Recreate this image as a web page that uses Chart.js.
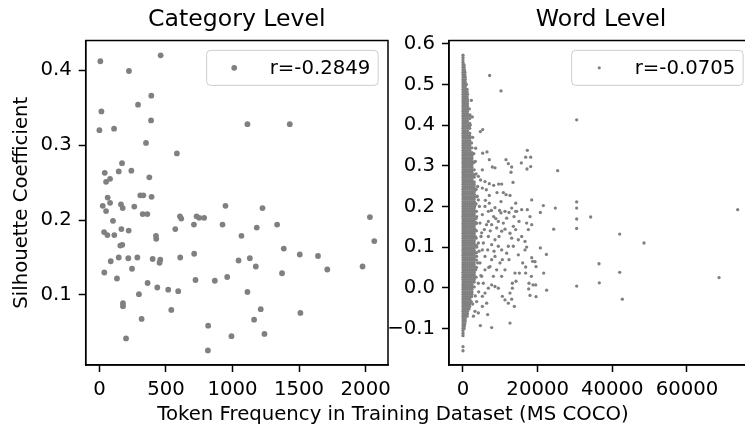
<!DOCTYPE html>
<html>
<head>
<meta charset="utf-8">
<script src="https://cdn.jsdelivr.net/npm/chart.js@4.4.1/dist/chart.umd.min.js"></script>
<style>
  html,body{margin:0;padding:0;background:#fff;overflow:hidden;}
  #wrap{position:relative;width:745px;height:436px;overflow:hidden;}
  canvas{position:absolute;top:0;}
  #catCanvas{left:0;}
  #wordCanvas{left:380px;}
  #xlabel{position:absolute;left:0;width:786px;top:404px;text-align:center;white-space:nowrap;
          font-family:"DejaVu Sans";font-size:19.7px;line-height:1;color:#000;}
</style>
</head>
<body>
<div id="wrap">
  <canvas id="catCanvas" width="400" height="436"></canvas>
  <canvas id="wordCanvas" width="387" height="436"></canvas>
  <div id="xlabel">Token Frequency in Training Dataset (MS COCO)</div>
</div>
<script>
// category level: [token frequency, silhouette]
const catPoints = [
  [7,0.412],[460,0.42],[222,0.399],[390,0.366],[290,0.354],[15,0.345],[388,0.333],[0,0.32],[110,0.322],
  [1112,0.328],[1430,0.328],[350,0.303],[582,0.289],[170,0.276],[40,0.263],[145,0.265],[240,0.266],
  [50,0.251],[80,0.255],[375,0.257],[62,0.23],[80,0.223],[25,0.219],[50,0.212],[162,0.221],[175,0.216],
  [262,0.218],[307,0.233],[330,0.233],[392,0.231],[947,0.219],[1225,0.216],[102,0.199],[325,0.208],
  [360,0.208],[605,0.205],[615,0.202],[710,0.194],[730,0.205],[750,0.203],[787,0.203],[925,0.194],
  [1335,0.194],[2032,0.204],[35,0.184],[60,0.18],[112,0.18],[165,0.188],[220,0.186],[570,0.188],
  [1182,0.19],[425,0.179],[427,0.175],[1067,0.179],[2065,0.172],[157,0.166],[172,0.167],[1385,0.162],
  [85,0.145],[145,0.15],[217,0.149],[285,0.15],[400,0.148],[457,0.147],[452,0.143],[607,0.15],
  [712,0.155],[1045,0.146],[1130,0.149],[1175,0.138],[1505,0.154],[1642,0.152],[1712,0.134],[1977,0.138],
  [37,0.13],[245,0.135],[132,0.122],[1372,0.129],[362,0.116],[435,0.11],[517,0.107],[592,0.105],
  [722,0.12],[867,0.119],[960,0.124],[1112,0.104],[297,0.101],[177,0.089],[177,0.085],[317,0.068],
  [540,0.08],[1212,0.081],[1162,0.067],[1510,0.076],[817,0.059],[992,0.045],[1240,0.048],[200,0.042],
  [815,0.026]
];

// word level, the dense band of rare words: [silhouette, freq, freq, ...]
const wordColumnRows = [
  [0.572,0],[0.566,0],[0.560,0],[0.554,0],[0.548,0,300],[0.542,0,300],[0.536,0,400],[0.530,0,500],
  [0.524,0,500],[0.518,0,600],[0.512,0,600],[0.506,0,600],[0.500,0,600,900],[0.494,0,600],
  [0.488,0,600,1100],[0.482,0,600,1100],[0.476,0,600,1200],[0.470,0,600,1100],[0.464,0,600,1200],
  [0.458,0,600,1200],[0.452,0,600,1200],[0.446,0,600,1200],[0.440,0,600,1200,1700],[0.434,0,600,1200],
  [0.428,0,600,1200],[0.422,0,600,1200,1800],[0.416,0,600,1200,1800],[0.410,0,600,1200],
  [0.404,0,600,1200,1800],[0.398,0,600,1200,1600],[0.392,0,600,1200,1800],[0.386,0,600,1200],
  [0.380,0,600,1200,1800],[0.374,0,600,1200,1800],[0.368,0,600,1200,1800],[0.362,0,600,1200,1800],
  [0.356,0,600,1200,1800,2300],[0.350,0,600,1200,1800],[0.344,0,600,1200,1800,2400],[0.338,0,600,1200,1800],
  [0.332,0,600,1200,1800,2400],[0.326,0,600,1200,1800,2400],[0.320,0,600,1200,1800,2400],
  [0.314,0,600,1200,1800,2400],[0.308,0,600,1200,1800,2400,2900],[0.302,0,600,1200,1800,2400],
  [0.296,0,600,1200,1800,2400],[0.290,0,600,1200,1800,2400,3000],[0.284,0,600,1200,1800,2400],
  [0.278,0,600,1200,1800,2400,3000],[0.272,0,600,1200,1800,2400,3000],[0.266,0,600,1200,1800,2400],
  [0.260,0,600,1200,1800,2400,3000],[0.254,0,600,1200,1800,2400,3000],[0.248,0,600,1200,1800,2400,3000],
  [0.242,0,600,1200,1800,2400,3000,3500],[0.236,0,600,1200,1800,2400,3000],[0.230,0,600,1200,1800,2400,3000],
  [0.224,0,600,1200,1800,2400,3000,3600],[0.218,0,600,1200,1800,2400,3000],[0.212,0,600,1200,1800,2400,3000],
  [0.206,0,600,1200,1800,2400,3000,3500],[0.200,0,600,1200,1800,2400,3000],[0.194,0,600,1200,1800,2400,3000],
  [0.188,0,600,1200,1800,2400,3000,3600],[0.182,0,600,1200,1800,2400,3000],[0.176,0,600,1200,1800,2400,3000],
  [0.170,0,600,1200,1800,2400,3000,3500],[0.164,0,600,1200,1800,2400,3000],[0.158,0,600,1200,1800,2400,3000,3600],
  [0.152,0,600,1200,1800,2400,3000],[0.146,0,600,1200,1800,2400,3000],[0.140,0,600,1200,1800,2400,3000,3600],
  [0.134,0,600,1200,1800,2400,3000],[0.128,0,600,1200,1800,2400,3000],[0.122,0,600,1200,1800,2400,3000,3500],
  [0.116,0,600,1200,1800,2400,3000],[0.110,0,600,1200,1800,2400,3000],[0.104,0,600,1200,1800,2400,3000,3600],
  [0.098,0,600,1200,1800,2400,3000],[0.092,0,600,1200,1800,2400,3000],[0.086,0,600,1200,1800,2400,3000,3600],
  [0.080,0,600,1200,1800,2400,3000],[0.074,0,600,1200,1800,2400,3000],[0.068,0,600,1200,1800,2400,3000,3600],
  [0.062,0,600,1200,1800,2400,3000],[0.056,0,600,1200,1800,2400,3000],[0.050,0,600,1200,1800,2400,3000,3600],
  [0.044,0,600,1200,1800,2400,3000],[0.038,0,600,1200,1800,2400,3000],[0.032,0,600,1200,1800,2400,3000],
  [0.026,0,600,1200,1800,2400,3000,3500],[0.020,0,600,1200,1800,2400,3000],[0.014,0,600,1200,1800,2400,3000],
  [0.008,0,600,1200,1800,2400],[0.002,0,600,1200,1800,2400,3000],[-0.004,0,600,1200,1800,2400],
  [-0.010,0,600,1200,1800,2400],[-0.016,0,600,1200,1800,2400],[-0.022,0,600,1200,1800,2300],
  [-0.028,0,600,1200,1800],[-0.034,0,600,1200,1800,2200],[-0.040,0,600,1200,1800],[-0.046,0,600,1200,1800],
  [-0.052,0,600,1200,1600],[-0.058,0,600,1200],[-0.064,0,600,1200],[-0.070,0,600,1100],[-0.076,0,600],
  [-0.082,0,600],[-0.088,0,500],[-0.094,0,400],[-0.100,0,300],[-0.106,0],[-0.112,0],[-0.118,0],
  [-0.145,0],[-0.155,0]
];

// word level, the scattered frequent words: [freq, silhouette]
const wordScatter = [
  [7140,0.522],[10180,0.484],[2230,0.461],[1875,0.425],[2500,0.42],[1960,0.40],[4640,0.384],[5270,0.389],
  [1960,0.37],[3390,0.343],[5270,0.331],[6430,0.334],[30450,0.413],[7050,0.315],[7860,0.297],[8570,0.295],
  [11520,0.315],[12140,0.305],[13040,0.297],[12860,0.284],[13390,0.259],[15630,0.307],[17230,0.338],
  [16790,0.321],[18130,0.321],[17140,0.292],[18130,0.298],[25360,0.288],[3300,0.311],[5180,0.29],
  [4110,0.274],[5890,0.261],[7050,0.256],[8220,0.252],[9550,0.255],[10360,0.255],[5180,0.245],[6250,0.241],
  [3390,0.241],[7050,0.227],[9110,0.234],[10800,0.234],[11520,0.229],[12590,0.227],[10180,0.212],
  [7050,0.208],[4110,0.216],[5890,0.2],[8570,0.197],[13040,0.196],[14380,0.188],[13660,0.175],
  [15720,0.192],[18400,0.216],[17230,0.192],[17950,0.175],[17050,0.159],[18400,0.155],[17500,0.143],
  [21520,0.202],[24730,0.196],[20720,0.185],[30450,0.211],[30450,0.196],[34200,0.174],[30450,0.169],
  [30450,0.146],[24290,0.144],[41970,0.132],[48490,0.11],[73580,0.192],[20720,0.098],[22330,0.082],
  [36430,0.059],[41970,0.038],[36520,0.012],[30450,0.004],[68580,0.025],[42680,-0.028],[22410,-0.006],
  [21610,0.036],[19470,0.007],[19560,-0.022],[17950,-0.019],[17590,-0.003],[19290,0.064],[19560,0.052],
  [18400,0.074],[18660,0.065],[18310,0.028],[18750,0.007],[16790,0.036],[16610,0.093],[16610,0.114],
  [17050,0.10],[14110,0.143],[13480,0.151],[12590,0.134],[13040,0.122],[14820,0.081],[13930,0.036],
  [13220,0.011],[13220,-0.001],[12590,-0.013],[13040,-0.028],[13750,-0.046],[12590,-0.087],[7680,-0.098],
  [4640,-0.093],[12140,-0.038],[11250,-0.03],[10540,-0.021],[9470,-0.001],[8570,0.003],[7680,0.007],
  [6790,-0.001],[5890,-0.013],[5180,-0.021],[6340,-0.038],[5180,-0.046],[6610,-0.066],[4110,-0.062],
  [3660,-0.034],[3210,-0.058],[10540,0.069],[9910,0.061],[8570,0.077],[7680,0.069],[7230,0.052],
  [9020,0.044],[11250,0.044],[10360,0.028],[8130,0.028],[5890,0.044],[5000,0.028],[4110,0.011],
  [5450,0.011],[4550,0.061],[5890,0.077],[6610,0.093],[7680,0.106],[8570,0.118],[9640,0.126],
  [10360,0.139],[11250,0.144],[9020,0.147],[7680,0.155],[6790,0.163],[8220,0.175],[9460,0.163],
  [10800,0.159],[11700,0.171],[12320,0.185],[11250,0.188],[10180,0.184],[6790,0.188],[5180,0.18],
  [4550,0.159],[5720,0.143],[4820,0.126],[4110,0.11],[5450,0.11],[6790,0.126],[5180,0.093],[3660,0.077],
  [3930,0.061],[3390,0.044],[3210,0.143],[3660,0.175],[3210,0.208],[3930,0.249],[14110,0.208],
  [14110,0.188],[15000,0.163],[13480,0.102],[12140,0.102],[11700,0.085],[12320,0.069],[10360,0.093],
  [9460,0.102],[15990,0.061],[15100,0.036],[14200,0.016],[16790,0.051],[17680,0.011],[15720,0.126],
  [14820,0.118],[4400,0.2],[6000,0.215],[7600,0.19],[8800,0.17],[5000,0.135],[6300,0.155],[7300,0.14],
  [8300,0.09],[6900,0.05],[4800,0.03],[3700,0.1],[4300,0.09],[9800,0.19],[3800,0.225],[4700,0.265],
  [3500,0.28],[2900,0.33],[2600,0.37],[3100,0.2],[3500,0.16],[3400,0.125],[3300,-0.02],[2800,-0.07],
  [2600,-0.04],[4200,-0.01]
];

// tick values
const catXTicks = [0, 500, 1000, 1500, 2000];
const catYTicks = [0.1, 0.2, 0.3, 0.4];
const wordXTicks = [0, 20000, 40000, 60000];
const wordYTicks = [-0.1, 0.0, 0.1, 0.2, 0.3, 0.4, 0.5, 0.6];

const catLabel = "r=-0.2849";
const wordLabel = "r=-0.0705";

const catData = catPoints.map(([x,y])=>({x,y}));
const wordData = wordColumnRows
  .flatMap(([y,...xs])=>xs.map(x=>({x,y})))
  .concat(wordScatter.map(([x,y])=>({x,y})));

Chart.defaults.font.family = "DejaVu Sans";
Chart.defaults.font.size = 19.7;
Chart.defaults.color = "#000";

const FS = 19.7;
const LW = 1.5;

// full box around the plot area
const framePlugin = {
  id:"frame",
  afterDraw(chart){
    const {ctx, chartArea:a} = chart;
    ctx.save();
    ctx.strokeStyle = "#000";
    ctx.lineWidth = LW;
    ctx.strokeRect(a.left, a.top, a.right-a.left, a.bottom-a.top);
    ctx.restore();
  }
};

// matplotlib style legend in the upper right corner
const boxLegend = {
  id:"boxLegend",
  afterDraw(chart, args, opts){
    const {ctx, chartArea:a} = chart;
    ctx.save();
    ctx.font = FS + "px 'DejaVu Sans'";
    const tw = ctx.measureText(opts.text).width;
    const pad = 0.4*FS, handle = 2*FS, gap = 0.8*FS;
    const w = pad*2 + handle + gap + tw;
    const h = 35;
    const right = a.right - 0.5*FS;
    const left = right - w;
    const top = a.top + 0.5*FS;
    ctx.beginPath();
    ctx.roundRect(left, top, w, h, 4);
    ctx.fillStyle = "rgba(255,255,255,0.8)";
    ctx.fill();
    ctx.strokeStyle = "#cccccc";
    ctx.lineWidth = 1;
    ctx.stroke();
    ctx.beginPath();
    ctx.arc(left + pad + handle/2, top + h/2, opts.radius, 0, Math.PI*2);
    ctx.fillStyle = "#808080";
    ctx.fill();
    ctx.fillStyle = "#000";
    ctx.textBaseline = "middle";
    ctx.textAlign = "left";
    ctx.fillText(opts.text, left + pad + handle + gap, top + h/2 + 1);
    ctx.restore();
  }
};

function fmtY(v){ return (v < 0 ? "\u2212" : "") + Math.abs(v).toFixed(1); }

function makeScales(xr, yr, xTicks, yTicks, yWidth, yTitle){
  const tickGrid = {drawOnChartArea:false, drawTicks:true, tickLength:7, tickWidth:LW, tickColor:"#000"};
  return {
    x:{
      type:"linear", min:xr[0], max:xr[1],
      ticks:{padding:6, autoSkip:false, maxRotation:0, callback:v=>String(v)},
      afterBuildTicks(s){ s.ticks = xTicks.map(v=>({value:v})); },
      grid:tickGrid,
      border:{display:true, color:"#000", width:LW},
      afterFit(s){ s.height = 436 - 365; }
    },
    y:{
      type:"linear", min:yr[0], max:yr[1],
      ticks:{padding:7, autoSkip:false, callback:fmtY},
      afterBuildTicks(s){ s.ticks = yTicks.map(v=>({value:v})); },
      grid:tickGrid,
      border:{display:true, color:"#000", width:LW},
      title:{display:!!yTitle, text:yTitle || "", padding:{top:10, bottom:0}, font:{size:FS}},
      afterFit(s){ s.width = yWidth; }
    }
  };
}

function titleOpts(text){
  return {display:true, text, fullSize:false, color:"#000",
          font:{size:23.6, weight:"normal"}, padding:{top:5.5, bottom:6.7}};
}

new Chart(document.getElementById("catCanvas"), {
  type:"scatter",
  data:{datasets:[{label:catLabel, data:catData, backgroundColor:"#808080",
                   pointRadius:2.9, pointBorderWidth:0, pointHoverRadius:2.9}]},
  options:{
    responsive:false, animation:false, events:[],
    layout:{padding:{left:0, right:12, top:0, bottom:0}},
    scales:makeScales([-103, 2168], [0.0065, 0.4397], catXTicks, catYTicks, 85.7, "Silhouette Coefficient"),
    plugins:{
      legend:{display:false}, tooltip:{enabled:false},
      title:titleOpts("Category Level"),
      boxLegend:{text:catLabel, radius:2.9}
    }
  },
  plugins:[framePlugin, boxLegend]
});

new Chart(document.getElementById("wordCanvas"), {
  type:"scatter",
  data:{datasets:[{label:wordLabel, data:wordData, backgroundColor:"#808080",
                   pointRadius:1.65, pointBorderWidth:0, pointHoverRadius:1.65}]},
  options:{
    responsive:false, animation:false, events:[],
    layout:{padding:{left:0, right:14, top:0, bottom:0}},
    scales:makeScales([-3750, 77680], [-0.19, 0.608], wordXTicks, wordYTicks, 69, null),
    plugins:{
      legend:{display:false}, tooltip:{enabled:false},
      title:titleOpts("Word Level"),
      boxLegend:{text:wordLabel, radius:1.6}
    }
  },
  plugins:[framePlugin, boxLegend]
});
</script>
</body>
</html>
